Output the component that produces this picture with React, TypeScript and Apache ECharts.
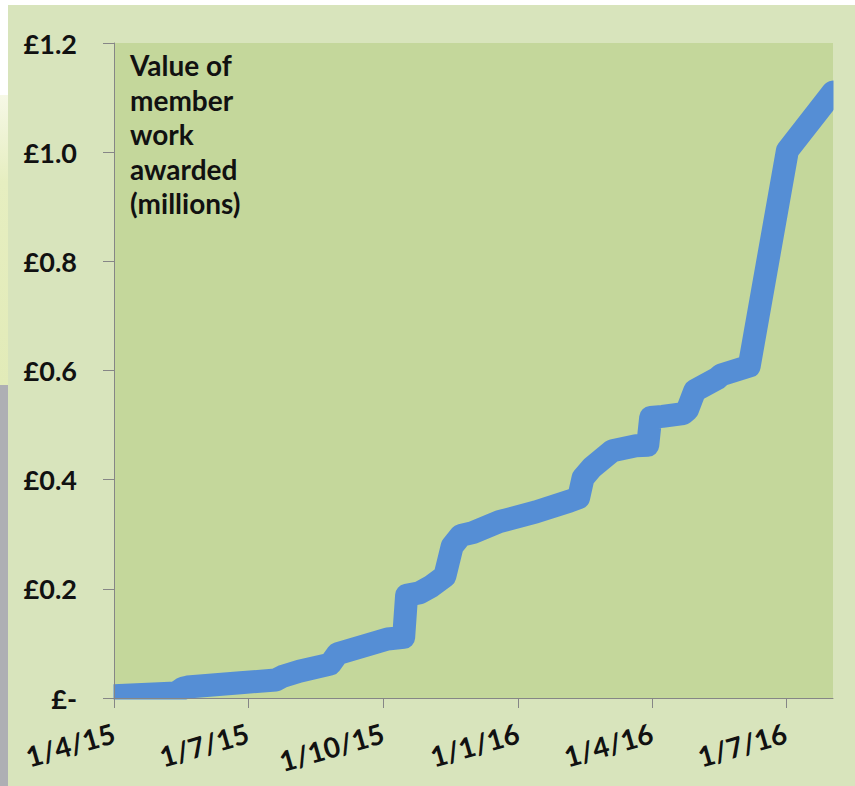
import React, { useEffect, useRef } from 'react';
import * as echarts from 'echarts';

const dates = [
  '2015-04-01', '2015-05-13', '2015-05-18', '2015-05-21', '2015-06-26', '2015-07-20',
  '2015-07-25', '2015-08-05', '2015-08-26', '2015-08-31', '2015-10-04', '2015-10-15',
  '2015-10-17', '2015-10-26', '2015-11-03', '2015-11-12', '2015-11-17', '2015-11-23',
  '2015-12-01', '2015-12-19', '2016-01-13', '2016-02-05', '2016-02-11', '2016-02-14',
  '2016-02-20', '2016-03-05', '2016-03-21', '2016-03-29', '2016-03-31', '2016-04-08',
  '2016-04-22', '2016-04-25', '2016-04-30', '2016-05-15', '2016-05-18', '2016-06-06',
  '2016-07-02', '2016-08-02'
];
const values = [
  0.004, 0.009, 0.018, 0.020, 0.028, 0.033,
  0.040, 0.049, 0.062, 0.081, 0.108, 0.111,
  0.188, 0.193, 0.205, 0.223, 0.278, 0.298,
  0.303, 0.323, 0.341, 0.361, 0.367, 0.403,
  0.422, 0.453, 0.462, 0.463, 0.514, 0.516,
  0.521, 0.528, 0.563, 0.585, 0.592, 0.608,
  1.003, 1.110
];
const tickDates = ['2015-04-01', '2015-07-01', '2015-10-01', '2016-01-01', '2016-04-01', '2016-07-01'];
const tickLabels = ['1/4/15', '1/7/15', '1/10/15', '1/1/16', '1/4/16', '1/7/16'];
const yTickLabels = ['£-', '£0.2', '£0.4', '£0.6', '£0.8', '£1.0', '£1.2'];
const titleLines = ['Value of', 'member', 'work', 'awarded', '(millions)'];
const axisStart = '2015-04-01';
const axisEnd = '2016-08-02';

function ts(d: string): number {
  const [y, m, dd] = d.split('-').map(Number);
  return Date.UTC(y, m - 1, dd);
}

export default function App() {
  const ref = useRef<HTMLDivElement>(null);
  useEffect(() => {
    if (!ref.current) return;
    const chart = echarts.init(ref.current, null, { renderer: 'svg' });
    const tickTs = tickDates.map(ts);
    const font = 'Lato';
    const outer = '#d8e4bc';
    chart.setOption({
      animation: false,
      backgroundColor: outer,
      graphic: [
        { type: 'rect', shape: { x: 0, y: 0, width: 855, height: 5 }, style: { fill: '#ffffff' }, silent: true },
        { type: 'rect', shape: { x: 0, y: 0, width: 8, height: 786 }, style: { fill: '#ffffff' }, silent: true },
        {
          type: 'rect', shape: { x: 0, y: 95, width: 8, height: 290 }, silent: true,
          style: {
            fill: new echarts.graphic.LinearGradient(0, 0, 0, 1, [
              { offset: 0, color: '#f6f8e6' },
              { offset: 0.3, color: '#e6eec0' },
              { offset: 1, color: '#e2ebb8' },
            ]),
          },
        },
        { type: 'rect', shape: { x: 0, y: 385, width: 8, height: 401 }, style: { fill: '#aeafb4' }, silent: true },
        // covers that clip the thick line to the plot area
        { type: 'rect', z: 5, silent: true, shape: { x: 90, y: 660, width: 23.5, height: 60 }, style: { fill: outer } },
        { type: 'rect', z: 5, silent: true, shape: { x: 90, y: 699.5, width: 765, height: 14 }, style: { fill: outer } },
        { type: 'rect', z: 5, silent: true, shape: { x: 833.5, y: 20, width: 21.5, height: 160 }, style: { fill: outer } },
        {
          type: 'text', left: 130, top: 48, z: 100, silent: true,
          style: {
            text: titleLines.join('\n'),
            fontFamily: font, fontWeight: 'bold', fontSize: 28, lineHeight: 34.5, fill: '#111111',
          },
        },
      ],
      grid: {
        left: 114, top: 43, right: 22, bottom: 88,
        show: true, backgroundColor: '#c4d79b', borderWidth: 0,
      },
      xAxis: {
        type: 'value',
        z: 10,
        min: ts(axisStart),
        max: ts(axisEnd),
        splitLine: { show: false },
        axisLine: { show: true, lineStyle: { color: '#868686', width: 1 } },
        axisTick: { show: true, customValues: tickTs, length: 10, lineStyle: { color: '#868686' } },
        axisLabel: {
          customValues: tickTs,
          rotate: 16,
          margin: 34,
          fontFamily: font, fontWeight: 'bold', fontSize: 28, color: '#111111',
          formatter: (v: number) => {
            const i = tickTs.indexOf(v);
            return i >= 0 ? tickLabels[i] : '';
          },
        },
      },
      yAxis: {
        type: 'value',
        z: 10,
        min: 0, max: 1.2, interval: 0.2,
        splitLine: { show: false },
        axisLine: { show: true, lineStyle: { color: '#868686', width: 1 } },
        axisTick: { show: true, length: 11, lineStyle: { color: '#868686' } },
        axisLabel: {
          margin: 37,
          fontFamily: font, fontWeight: 'bold', fontSize: 27, color: '#111111',
          formatter: (v: number) => yTickLabels[Math.round(v / 0.2)] ?? '',
        },
      },
      series: [
        {
          type: 'line',
          z: 2,
          data: dates.map((d, i) => [ts(d), values[i]]),
          showSymbol: false,
          clip: true,
          lineStyle: { color: '#558ed5', width: 23, cap: 'round', join: 'round' },
        },
      ],
    });
    return () => chart.dispose();
  }, []);
  return (
    <div
      ref={ref}
      style={{ position: 'absolute', left: 0, top: 0, width: 855, height: 786 }}
    />
  );
}
